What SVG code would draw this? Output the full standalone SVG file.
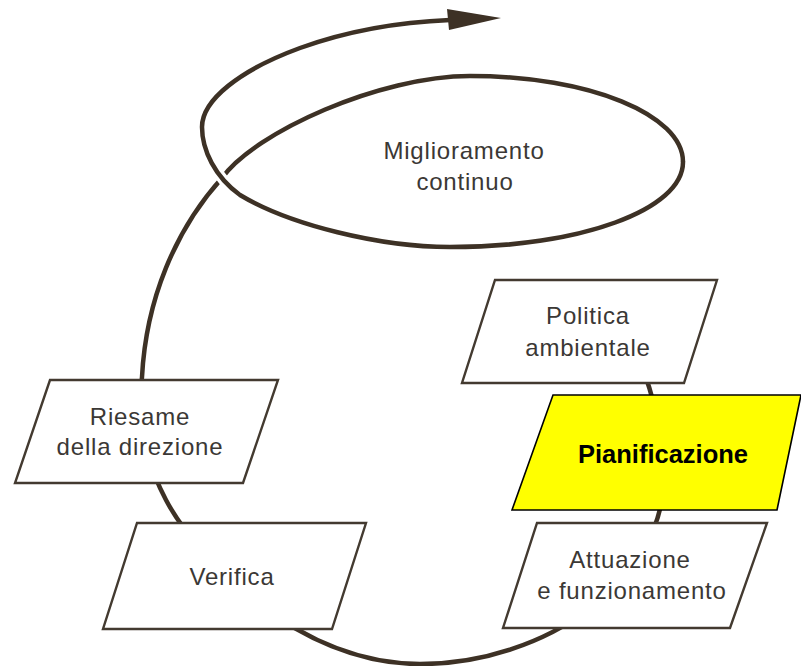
<svg xmlns="http://www.w3.org/2000/svg" width="801" height="666" viewBox="0 0 801 666">
  <style>
    .loop { fill: none; stroke: #3d3125; stroke-width: 4.5; stroke-linecap: round; stroke-linejoin: round; }
    .halo { fill: none; stroke: #ffffff; stroke-width: 11; stroke-linecap: butt; }
    .head { fill: #3d3125; }
    .box { fill: #ffffff; stroke: #433a30; stroke-width: 2.4; stroke-linejoin: miter; }
    .hl { fill: #ffff00; stroke: #000000; stroke-width: 1.6; }
    .lbl { font-family: "Liberation Sans", Arial, sans-serif; font-size: 24px; letter-spacing: 0.8px; fill: #3b3835; text-anchor: middle; }
    .lblb { font-family: "Liberation Sans", Arial, sans-serif; font-size: 25.5px; font-weight: bold; fill: #000000; text-anchor: middle; }
  </style>
  <rect width="801" height="666" fill="#ffffff"/>

  <!-- spiral: the cycle ring rising into the improvement loop and leaving as the arrow -->
  <g id="connectors">
    <path class="loop" d="M 628 330 C 645 370 663 420 664 470 C 668 580 545 664 420 664 C 295 664 195 555 166 500 C 137 445 139 400 142 377 C 146 300 175 230 222 178 C 255 132 380 76 470 76 C 590 76 683 115 683 162"/>
    <path class="halo" d="M 683 162 C 683 210 580 247 450 247 C 380 247 290 225 240 195 C 215 177 202 150 202 127 C 202 100 240 70 300 48 C 350 30 400 22 450 20"/>
    <path class="loop" d="M 683 162 C 683 210 580 247 450 247 C 380 247 290 225 240 195 C 215 177 202 150 202 127 C 202 100 240 70 300 48 C 350 30 400 22 450 20"/>
    <polygon class="head" points="447,9 501,18 449,30"/>
  </g>

  <g id="miglioramento">
    <text class="lbl" x="464" y="159">Miglioramento</text>
    <text class="lbl" x="465" y="190">continuo</text>
  </g>

  <g id="politica">
    <polygon class="box" points="495,280 717,280 684,383 462,383"/>
    <text class="lbl" x="588" y="324">Politica</text>
    <text class="lbl" x="588" y="356">ambientale</text>
  </g>

  <g id="pianificazione">
    <polygon class="hl" points="553,395 801,395 777,510 512,510"/>
    <text class="lblb" x="663" y="463">Pianificazione</text>
  </g>

  <g id="attuazione">
    <polygon class="box" points="537,523 767,523 730,628 503,628"/>
    <text class="lbl" x="630" y="568">Attuazione</text>
    <text class="lbl" x="632" y="599">e funzionamento</text>
  </g>

  <g id="verifica">
    <polygon class="box" points="137,523 366,523 332,629 103,629"/>
    <text class="lbl" x="232" y="585">Verifica</text>
  </g>

  <g id="riesame">
    <polygon class="box" points="50,380 278,380 243,483 15,483"/>
    <text class="lbl" x="140" y="425">Riesame</text>
    <text class="lbl" x="140" y="455">della direzione</text>
  </g>
</svg>
